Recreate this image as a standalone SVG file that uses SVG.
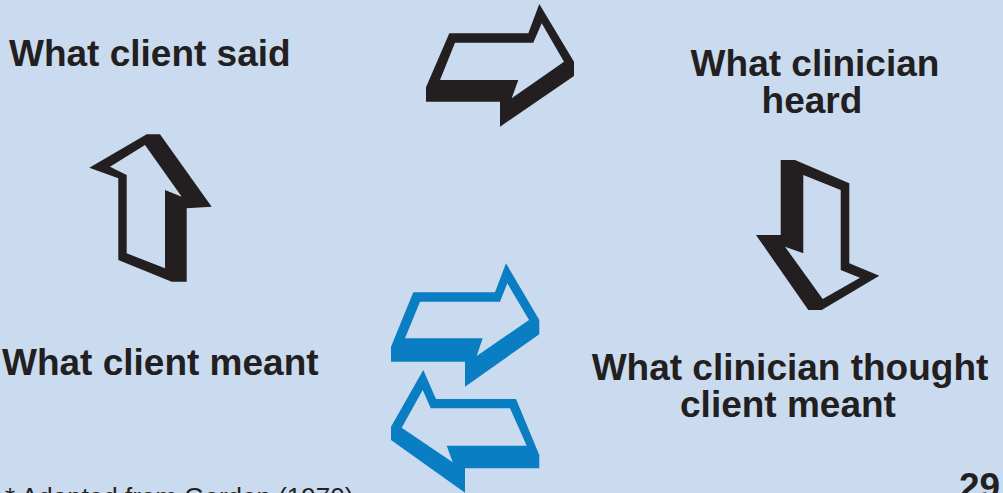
<svg xmlns="http://www.w3.org/2000/svg" width="1003" height="493" viewBox="0 0 1003 493">
<style>
.lbl{font-family:"Liberation Sans",Arial,sans-serif;font-weight:bold;font-size:37px;fill:#231f20}
.note{font-family:"Liberation Sans",Arial,sans-serif;font-size:26px;fill:#231f20}
.k{fill:#231f20}
.b{fill:#0a7ec3}
.in{fill:#cadbf0}
</style>
<rect width="1003" height="493" fill="#cadbf0"/>
<g id="connectors">
<g id="arrow-top">
<polygon class="k" points="449.3,33.3 528.3,33.3 539.3,4 574,61.7 574,76 500,126.7 500,101.7 426,101.7 426,87.3"/>
<polygon class="in" points="455,42.7 533.3,42.7 541.7,23.3 564,61.7 511.7,98.3 518.3,80 440,80"/>
</g>
<g id="arrow-down">
<polygon class="k" points="780.7,160 795,160 849.3,183.3 849.3,263.3 879.3,275.7 821.7,310 808.3,310 756,235 780.7,235"/>
<polygon class="in" points="803.3,175 840.7,190 840.7,270 860,277.7 822.7,299 785,246.7 803.3,253.3"/>
</g>
<g id="arrow-up">
<polygon class="k" points="89.3,167.7 146.7,134.3 160,134.3 211.7,206.7 186.7,208.3 186.7,281.7 171.7,281.7 118.3,260 118.3,178.3"/>
<polygon class="in" points="110,166.7 145,145 181.7,196.7 165,190 165,268.3 126.7,253.3 126.7,175"/>
</g>
<g id="arrow-blue-right">
<polygon class="b" points="413.3,292.3 495,292.3 506,263.3 539.3,320 539.3,334.3 465,386.7 465,361.7 391,361.7 391,346.7"/>
<polygon class="in" points="420,301.7 500,301.7 507.3,283.3 529,320 476.7,356 482.7,338.3 405,338.3"/>
</g>
<g id="arrow-blue-left">
<polygon class="b" points="423.3,370 436,399 516,399 539.3,455 539.3,468.3 465,468.3 465,492.7 391,440 391,426.7"/>
<polygon class="in" points="422.7,390 430.7,408.3 510,408.3 526.7,445.7 446.7,445.7 452.7,462.3 401.7,427.7"/>
</g>
</g>
<g id="client-said"><text class="lbl" x="9" y="66">What client said</text></g>
<g id="clinician-heard"><text class="lbl" text-anchor="middle" x="815" y="76">What clinician</text><text class="lbl" text-anchor="middle" x="812" y="113">heard</text></g>
<g id="client-meant"><text class="lbl" x="2" y="375">What client meant</text></g>
<g id="clinician-thought"><text class="lbl" text-anchor="middle" x="790" y="380">What clinician thought</text><text class="lbl" text-anchor="middle" x="788" y="417">client meant</text></g>
<g id="footnote"><text class="note" x="5" y="506">* Adapted from Gordon (1970)</text></g>
<g id="page"><text class="lbl" x="959" y="499">29</text></g>
</svg>
